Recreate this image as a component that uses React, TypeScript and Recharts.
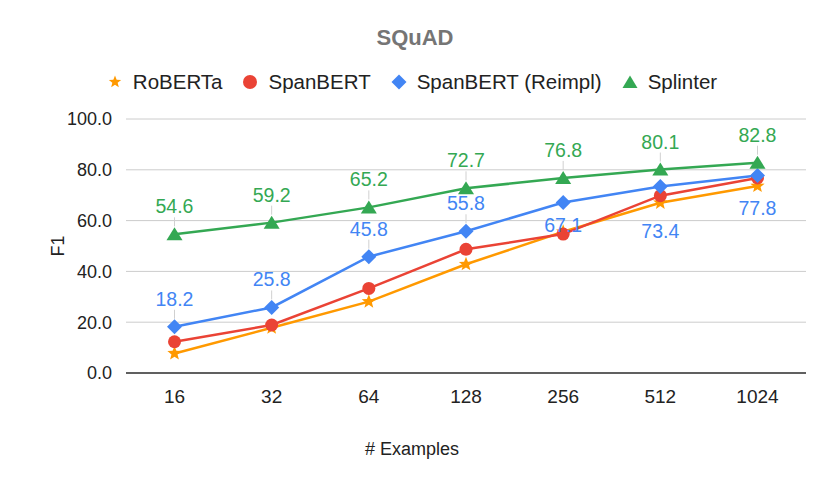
import { LineChart, Line, XAxis, YAxis, CartesianGrid, LabelList } from 'recharts';

const examples = ['16', '32', '64', '128', '256', '512', '1024'];
const roberta = [7.7, 17.8, 28.1, 42.8, 55.6, 67.0, 73.6];
const spanbert = [12.3, 18.9, 33.3, 48.7, 54.7, 69.8, 76.8];
const spanbertReimpl = [18.2, 25.8, 45.8, 55.8, 67.1, 73.4, 77.8];
const splinter = [54.6, 59.2, 65.2, 72.7, 76.8, 80.1, 82.8];
const yTicks = [0, 20, 40, 60, 80, 100];

const data = examples.map((name, i) => ({
  name,
  roberta: roberta[i],
  spanbert: spanbert[i],
  reimpl: spanbertReimpl[i],
  splinter: splinter[i],
}));

const FONT = '"Liberation Sans", Arial, sans-serif';
const ORANGE = '#ff9900';
const RED = '#ea4335';
const BLUE = '#4285f4';
const GREEN = '#34a853';

// label placement for the blue series (Sheets pushes the last three below the line)
const reimplLabelDy = [-28, -28, -28, -28, 22, 44, 33];

const starPath = (cx: number, cy: number, ro: number, ri: number) => {
  let d = '';
  for (let k = 0; k < 10; k++) {
    const r = k % 2 === 0 ? ro : ri;
    const a = -Math.PI / 2 + (k * Math.PI) / 5;
    d += (k === 0 ? 'M' : 'L') + (cx + r * Math.cos(a)).toFixed(2) + ',' + (cy + r * Math.sin(a)).toFixed(2);
  }
  return d + 'Z';
};

const StarDot = (p: any) => <path key={p.index} d={starPath(p.cx, p.cy, 7.5, 3.2)} fill={ORANGE} />;
const CircleDot = (p: any) => <circle key={p.index} cx={p.cx} cy={p.cy} r={6.5} fill={RED} />;
const DiamondDot = (p: any) => (
  <path key={p.index} d={`M${p.cx},${p.cy - 7.5}L${p.cx + 7.5},${p.cy}L${p.cx},${p.cy + 7.5}L${p.cx - 7.5},${p.cy}Z`} fill={BLUE} />
);
const TriangleDot = (p: any) => (
  <path key={p.index} d={`M${p.cx},${p.cy - 7}L${p.cx + 8},${p.cy + 6}L${p.cx - 8},${p.cy + 6}Z`} fill={GREEN} />
);

const makeLabel = (color: string, dys: number[] | null) => (props: any) => {
  const { x, y, value, index } = props;
  const dy = dys ? dys[index] : -28;
  return (
    <g key={index}>
      {dy < 0 && <line x1={x} x2={x} y1={y + dy + 11} y2={y - 8} stroke="#d0d0d0" strokeWidth={1} />}
      <text x={x} y={y + dy} textAnchor="middle" dominantBaseline="central" fill={color} fontSize={19.5} fontFamily={FONT}>
        {Number(value).toFixed(1)}
      </text>
    </g>
  );
};

const legendItems = [
  { label: 'RoBERTa', icon: <path d={starPath(8, 8, 6.5, 2.8)} fill={ORANGE} /> },
  { label: 'SpanBERT', icon: <circle cx={8} cy={8} r={7} fill={RED} /> },
  { label: 'SpanBERT (Reimpl)', icon: <path d="M8,0.5L15.5,8L8,15.5L0.5,8Z" fill={BLUE} /> },
  { label: 'Splinter', icon: <path d="M8,1.5L15.5,14L0.5,14Z" fill={GREEN} /> },
];

export default function App() {
  return (
    <div style={{ position: 'absolute', left: 0, top: 0, width: 830, height: 479, background: '#fff' }}>
      <div style={{ position: 'absolute', top: 25, left: 0, width: 830, textAlign: 'center', fontFamily: FONT, fontSize: 22, fontWeight: 'bold', color: '#757575' }}>
        SQuAD
      </div>
      <div style={{ position: 'absolute', top: 70, left: -3, width: 830, display: 'flex', justifyContent: 'center', gap: 20, fontFamily: FONT, fontSize: 20.5, color: '#222' }}>
        {legendItems.map((it) => (
          <div key={it.label} style={{ display: 'flex', alignItems: 'center', gap: 10 }}>
            <svg width={16} height={16}>{it.icon}</svg>
            <span>{it.label}</span>
          </div>
        ))}
      </div>
      <LineChart width={830} height={479} data={data} margin={{ top: 119, right: 24, bottom: 76, left: 66 }}>
        <CartesianGrid vertical={false} stroke="#cccccc" />
        <XAxis
          dataKey="name"
          height={30}
          padding={{ left: 48.5, right: 48.5 }}
          tickLine={false}
          axisLine={{ stroke: '#333', strokeWidth: 1.5 }}
          tick={{ fill: '#222', fontSize: 19, fontFamily: FONT }}
          tickMargin={11}
          label={{
            content: () => (
              <text x={412} y={449} textAnchor="middle" dominantBaseline="central" fill="#222" fontSize={18} fontFamily={FONT}>
                # Examples
              </text>
            ),
          }}
        />
        <YAxis
          domain={[0, 100]}
          ticks={yTicks}
          width={60}
          tickLine={false}
          axisLine={false}
          tickFormatter={(v: number) => v.toFixed(1)}
          tick={{ fill: '#222', fontSize: 18, fontFamily: FONT }}
          tickMargin={8}
          label={{
            content: () => (
              <text x={58} y={246} textAnchor="middle" dominantBaseline="central" fill="#222" fontSize={18} fontFamily={FONT} transform="rotate(-90 58 246)">
                F1
              </text>
            ),
          }}
        />
        <Line dataKey="roberta" stroke={ORANGE} strokeWidth={2.5} dot={StarDot} activeDot={false} isAnimationActive={false} />
        <Line dataKey="spanbert" stroke={RED} strokeWidth={2.5} dot={CircleDot} activeDot={false} isAnimationActive={false} />
        <Line dataKey="reimpl" stroke={BLUE} strokeWidth={2.5} dot={DiamondDot} activeDot={false} isAnimationActive={false}>
          <LabelList dataKey="reimpl" content={makeLabel(BLUE, reimplLabelDy)} />
        </Line>
        <Line dataKey="splinter" stroke={GREEN} strokeWidth={2.5} dot={TriangleDot} activeDot={false} isAnimationActive={false}>
          <LabelList dataKey="splinter" content={makeLabel(GREEN, null)} />
        </Line>
      </LineChart>
    </div>
  );
}
